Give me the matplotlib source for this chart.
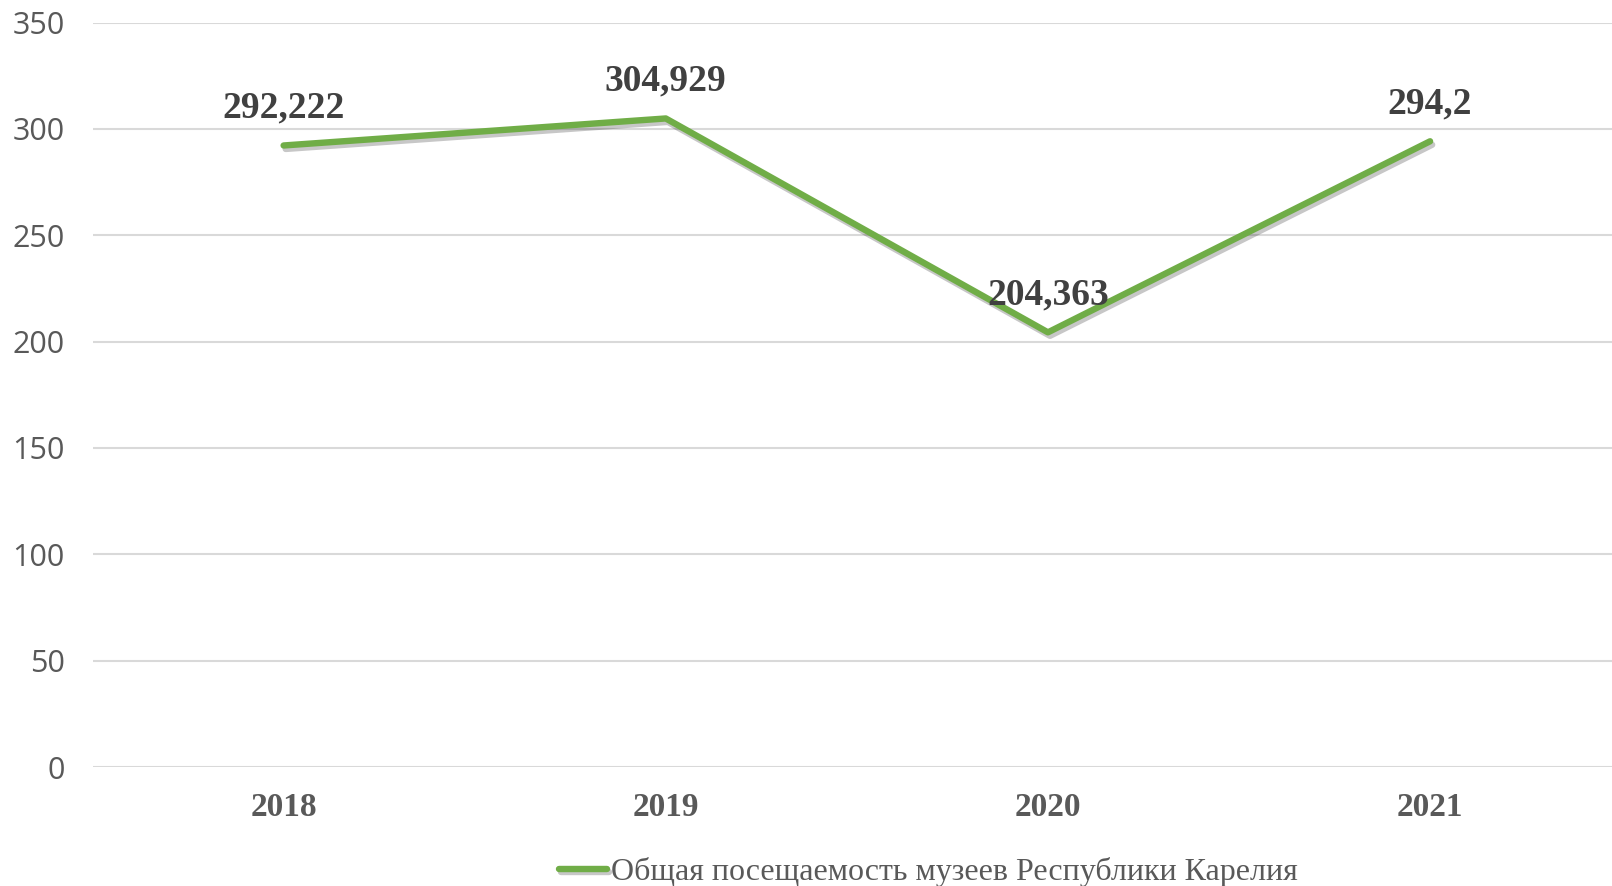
import matplotlib
matplotlib.use("Agg")
import matplotlib.pyplot as plt
import matplotlib.patheffects as pe

years = ["2018", "2019", "2020", "2021"]
values = [292.222, 304.929, 204.363, 294.2]
labels = ["292,222", "304,929", "204,363", "294,2"]
series_name = "Общая посещаемость музеев Республики Карелия"
yticks = [0, 50, 100, 150, 200, 250, 300, 350]

green = "#70AD47"
grey = "#595959"

fig = plt.figure(figsize=(16.12, 8.86), dpi=100)
ax = fig.add_axes([0.0574, 0.1343, 0.9426, 0.8402])

x = list(range(len(years)))
ax.plot(x, values, color=green, linewidth=4.6, solid_capstyle="round", label=series_name,
        path_effects=[pe.SimpleLineShadow(offset=(1.5, -2.5), shadow_color="#000000", alpha=0.22),
                      pe.Normal()], zorder=3)

for xi, v, t in zip(x, values, labels):
    ax.annotate(t, (xi, v), xytext=(0, 27), textcoords="offset points", ha="center", va="center",
                fontsize=27, fontweight="bold", family="Liberation Serif", color="#404040", zorder=4)

ax.set_xlim(-0.5, 3.476)
ax.set_ylim(0, 350)
ax.set_yticks(yticks)
ax.set_yticklabels([str(t) for t in yticks], fontsize=22, family="Open Sans", color=grey)
ax.set_xticks(x)
ax.set_xticklabels(years, fontsize=24, fontweight="bold", family="Liberation Serif", color=grey)
ax.tick_params(axis="both", length=0)
ax.tick_params(axis="y", pad=20)
ax.tick_params(axis="x", pad=18)
ax.grid(axis="y", color="#D9D9D9", linewidth=1.5)
ax.set_axisbelow(True)
for s in ax.spines.values():
    s.set_visible(False)

leg = fig.legend(loc="lower center", bbox_to_anchor=(0.576, -0.012), frameon=False,
                 prop={"family": "Liberation Serif", "size": 23}, handlelength=1.5,
                 handletextpad=0.15, labelcolor=grey, borderaxespad=0, borderpad=0.3)

fig.savefig("out.png", dpi=100)
